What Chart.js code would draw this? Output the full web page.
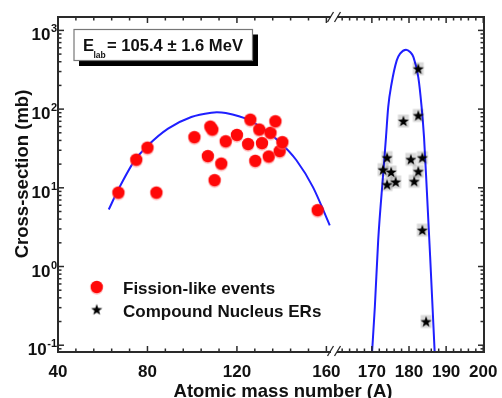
<!DOCTYPE html>
<html>
<head>
<meta charset="utf-8">
<script src="https://cdn.jsdelivr.net/npm/chart.js@4.4.1/dist/chart.umd.min.js"></script>
<style>
  html, body { margin: 0; padding: 0; background: #fff; }
</style>
</head>
<body>
<canvas id="chart" width="502" height="398"></canvas>
<script>
// fission-like events (left part of the broken axis)
const fissionA = [67, 75, 80, 84, 101, 107, 108.1, 109, 110, 113, 115, 120, 125, 126, 128.2, 130, 131.2, 134.2, 135, 137.2, 139.1, 140.3, 156.1];
const fissionSigma = [8.7, 22.8, 32.4, 8.7, 44, 25.3, 60, 55, 12.5, 20.3, 39, 47, 36, 73.5, 22, 55, 37, 25, 50, 70, 29.3, 38, 5.2];

// compound nucleus evaporation residues (right part)
const erA = [182.5, 182.5, 178.5, 174.1, 180.5, 183.6, 173, 175.2, 182.5, 174.1, 176.4, 181.4, 183.6, 184.6];
const erSigma = [326, 83, 70.5, 24.2, 23, 24.2, 17, 15.9, 16.2, 11, 11.9, 12.1, 2.9, 0.2];

// fitted curves
const fitLA = [62.7, 66.8, 74.3, 80.3, 89.2, 99.6, 108.6, 111, 115, 125.7, 131.6, 139.1, 146.6, 154, 161.5];
const fitLS = [5.3, 9.3, 22.3, 34.7, 56.5, 79.4, 90, 91, 89, 72, 56.5, 38.2, 22.4, 10.2, 3.34];
const fitRA = [170.0, 170.8, 171.7, 173.05, 173.8, 174.4, 175.3, 176.7, 177.6, 179.2, 180.3, 181.2, 182.5, 183.4, 184.05, 184.8, 185.7, 186.95];
const fitRS = [0.075, 0.306, 2.15, 15.1, 43.8, 106, 210, 416, 506, 569, 531, 458, 255, 106, 43.8, 9.3, 1.32, 0.075];

// axes
const xLeftTicks = [40, 80, 120, 160];
const xRightTicks = [170, 180, 190, 200];
const yTicks = [0.1, 1, 10, 100, 1000];
const yExp = ['-1', '0', '1', '2', '3'];

const FONT = '"Liberation Sans", Arial, sans-serif';
const AXIS = '#2a2a2a';

function pts(xs, ys) {
  return xs.map((x, i) => ({ x: x, y: ys[i] }));
}

function makeDot() {
  const c = document.createElement('canvas');
  c.width = 16; c.height = 20;
  const g = c.getContext('2d');
  g.fillStyle = 'rgba(255,130,130,0.5)';
  g.beginPath(); g.arc(8, 11.5, 6.2, 0, Math.PI * 2); g.fill();
  g.fillStyle = '#ff0808';
  g.beginPath(); g.arc(8, 10, 6.2, 0, Math.PI * 2); g.fill();
  return c;
}

function makeStar(halo) {
  const c = document.createElement('canvas');
  c.width = 14; c.height = 16;
  const g = c.getContext('2d');
  if (halo) {
    g.fillStyle = 'rgba(0,0,0,0.15)';
    g.fillRect(1.5, 1.5, 11, 13);
  }
  g.fillStyle = '#000';
  g.beginPath();
  for (let i = 0; i < 10; i++) {
    const r = i % 2 ? 2.4 : 5.9;
    const a = -Math.PI / 2 + i * Math.PI / 5;
    const px = 7 + r * Math.cos(a), py = 8.5 + r * Math.sin(a);
    i ? g.lineTo(px, py) : g.moveTo(px, py);
  }
  g.closePath();
  g.fill();
  return c;
}

const dotImg = makeDot();
const starImg = makeStar(true);
const starLegend = makeStar(false);

function line(ctx, x1, y1, x2, y2) {
  ctx.beginPath(); ctx.moveTo(x1, y1); ctx.lineTo(x2, y2); ctx.stroke();
}

const decor = {
  id: 'decor',
  afterDatasetsDraw(chart) {
    const ctx = chart.ctx;
    const a = chart.chartArea;
    const xL = chart.scales.xL, xR = chart.scales.xR, y = chart.scales.y;
    ctx.save();

    // ticks (inward, all four sides)
    ctx.strokeStyle = AXIS;
    ctx.lineWidth = 1.5;
    const xTick = (px, len) => {
      line(ctx, px, a.bottom, px, a.bottom - len);
      line(ctx, px, a.top, px, a.top + len);
    };
    for (let v = 40; v <= 160; v += 8) {
      xTick(xL.getPixelForValue(v), xLeftTicks.includes(v) ? 6 : 3.5);
    }
    for (let v = 162; v <= 200; v += 2) {
      xTick(xR.getPixelForValue(v), xRightTicks.includes(v) ? 6 : 3.5);
    }
    for (let d = 0.01; d <= 1000; d *= 10) {
      for (let m = 1; m <= 9; m++) {
        const v = m * d;
        if (v < y.min || v > y.max) continue;
        const py = y.getPixelForValue(v);
        const len = m === 1 ? 6 : 3.5;
        line(ctx, a.left, py, a.left + len, py);
        line(ctx, a.right, py, a.right - len, py);
      }
    }

    // frame
    ctx.lineWidth = 2;
    ctx.strokeRect(a.left, a.top, a.right - a.left, a.bottom - a.top);

    // axis break
    const bx = xL.right;
    ctx.fillStyle = '#fff';
    ctx.fillRect(bx - 3, a.bottom - 2, 6, 4);
    ctx.fillRect(bx - 3, a.top - 2, 6, 4);
    ctx.lineWidth = 1.3;
    [-3.5, 3.5].forEach(o => {
      line(ctx, bx + o - 3, a.bottom + 4, bx + o + 3, a.bottom - 6);
      line(ctx, bx + o - 3, a.top + 5, bx + o + 3, a.top - 5);
    });

    // x tick labels
    ctx.fillStyle = '#111';
    ctx.font = 'bold 17px ' + FONT;
    ctx.textAlign = 'center';
    ctx.textBaseline = 'alphabetic';
    xLeftTicks.forEach(v => ctx.fillText(String(v), xL.getPixelForValue(v), 376.5));
    xRightTicks.forEach(v => ctx.fillText(String(v), xR.getPixelForValue(v), 376.5));

    // y tick labels with superscripts
    yTicks.forEach((v, i) => {
      const py = y.getPixelForValue(v);
      ctx.font = 'bold 11px ' + FONT;
      const ew = ctx.measureText(yExp[i]).width;
      ctx.textAlign = 'left';
      ctx.fillText(yExp[i], 57 - ew, py + 2);
      ctx.font = 'bold 17px ' + FONT;
      ctx.textAlign = 'right';
      ctx.fillText('10', 56.5 - ew, py + 10);
    });

    // axis titles
    ctx.textAlign = 'center';
    ctx.font = 'bold 18.5px ' + FONT;
    ctx.fillText('Atomic mass number (A)', 283, 397);
    ctx.save();
    ctx.translate(28, 174);
    ctx.rotate(-Math.PI / 2);
    ctx.fillText('Cross-section (mb)', 0, 0);
    ctx.restore();

    // energy label
    ctx.fillStyle = '#000';
    ctx.fillRect(79, 34.5, 179, 31.5);
    ctx.fillStyle = '#fff';
    ctx.fillRect(74, 29.5, 178.5, 31);
    ctx.strokeStyle = '#777';
    ctx.lineWidth = 1.2;
    ctx.strokeRect(74, 29.5, 178.5, 31);
    ctx.fillStyle = '#111';
    ctx.textAlign = 'left';
    ctx.font = 'bold 16.6px ' + FONT;
    ctx.fillText('E', 83, 51);
    ctx.font = 'bold 8.5px ' + FONT;
    ctx.fillText('lab', 93.5, 57.5);
    ctx.font = 'bold 16.6px ' + FONT;
    ctx.fillText('= 105.4 \u00b1 1.6 MeV', 107, 51);

    // legend
    ctx.drawImage(dotImg, 96.7 - 8, 287 - 10);
    ctx.drawImage(starLegend, 96.7 - 7, 310 - 8.5);
    ctx.font = 'bold 17px ' + FONT;
    ctx.fillText('Fission-like events', 123, 293.5);
    ctx.fillText('Compound Nucleus ERs', 123, 316.7);

    ctx.restore();
  }
};

new Chart(document.getElementById('chart'), {
  type: 'scatter',
  data: {
    datasets: [
      {
        label: 'Fission-like events',
        data: pts(fissionA, fissionSigma),
        xAxisID: 'xL',
        pointStyle: dotImg,
        order: 0
      },
      {
        label: 'Compound Nucleus ERs',
        data: pts(erA, erSigma),
        xAxisID: 'xR',
        pointStyle: starImg,
        order: 0
      },
      {
        label: 'fit fission',
        data: pts(fitLA, fitLS),
        xAxisID: 'xL',
        showLine: true,
        pointRadius: 0,
        borderColor: '#1f1fff',
        borderWidth: 2,
        cubicInterpolationMode: 'monotone',
        order: 1
      },
      {
        label: 'fit ER',
        data: pts(fitRA, fitRS),
        xAxisID: 'xR',
        showLine: true,
        pointRadius: 0,
        borderColor: '#1f1fff',
        borderWidth: 2,
        cubicInterpolationMode: 'monotone',
        order: 1
      }
    ]
  },
  options: {
    responsive: false,
    animation: false,
    layout: { padding: { left: 58, right: 18, top: 17, bottom: 46 } },
    plugins: { legend: { display: false }, tooltip: { enabled: false } },
    scales: {
      xL: { type: 'linear', position: 'bottom', stack: 'x', stackWeight: 276, min: 40, max: 163.4, display: false },
      xR: { type: 'linear', position: 'bottom', stack: 'x', stackWeight: 150, min: 159.8, max: 200.2, display: false },
      y: { type: 'logarithmic', min: 0.082, max: 1480, display: false }
    }
  },
  plugins: [decor]
});
</script>
</body>
</html>
